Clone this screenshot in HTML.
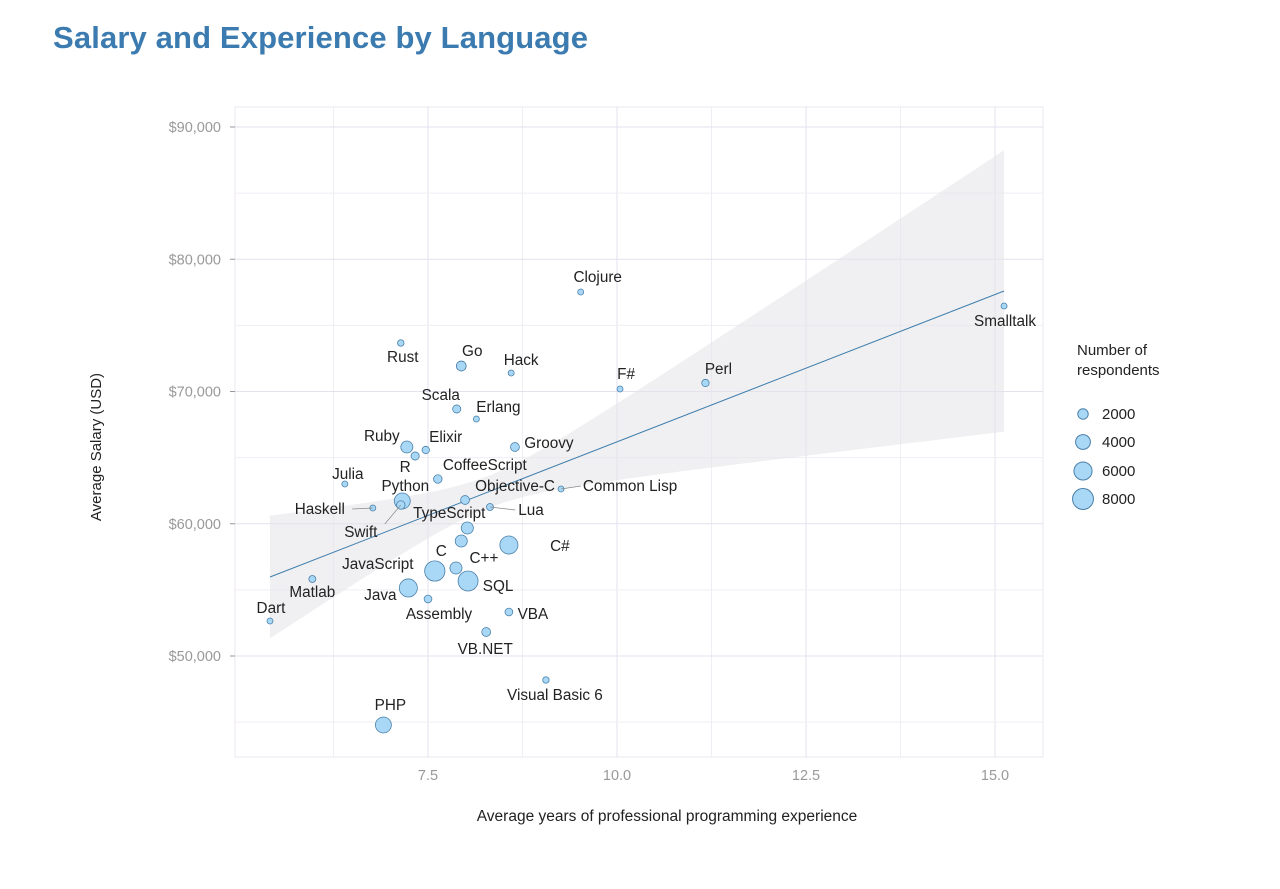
<!DOCTYPE html>
<html><head><meta charset="utf-8"><style>
body{margin:0;background:#fff;width:1280px;height:884px;overflow:hidden;font-family:"Liberation Sans",Arial,sans-serif}
</style></head><body>
<svg id="chart" width="1280" height="884" xmlns="http://www.w3.org/2000/svg" font-family="Liberation Sans, Arial, sans-serif">
<text x="53" y="48" font-size="31" font-weight="bold" fill="#3b7bb0" textLength="535">Salary and Experience by Language</text>
<g id="grid"></g><g id="band"></g><g id="marks"></g><g id="labels"></g>
<text x="667" y="821" font-size="15.5" text-anchor="middle" fill="#222">Average years of professional programming experience</text>
<text transform="translate(101,447) rotate(-90)" font-size="15" text-anchor="middle" fill="#222">Average Salary (USD)</text>
<g id="legend">
<text x="1077" y="355" font-size="15" fill="#222">Number of</text>
<text x="1077" y="375" font-size="15" fill="#222">respondents</text>
</g>
</svg>
<script>
const languages=["Clojure","Smalltalk","Rust","Go","Hack","F#","Perl","Scala","Erlang","Ruby","Elixir","R","Groovy","Julia","CoffeeScript","Objective-C","Common Lisp","Python","Haskell","Swift","Lua","TypeScript","C","C#","C++","JavaScript","SQL","Matlab","Java","Assembly","VBA","Dart","VB.NET","Visual Basic 6","PHP"];
const experience=[9.52,15.12,7.14,7.94,8.60,10.04,11.17,7.88,8.14,7.22,7.47,7.33,8.65,6.40,7.63,7.99,9.26,7.16,6.77,7.14,8.32,8.02,7.94,8.57,7.87,7.59,8.03,5.97,7.24,7.50,8.57,5.41,8.27,9.06,6.91];
const salary=[77524,76465,73667,71928,71399,70189,70643,68677,67921,65803,65577,65123,65803,63006,63384,61796,62628,61720,61191,61418,61267,59679,58696,58393,56654,56427,55671,55822,55142,54310,53327,52647,51815,48185,44783];
const respondents=[500,400,700,1600,400,500,900,1100,500,2400,900,1100,1300,300,1200,1300,300,4200,400,1200,800,2400,2400,5400,2400,6800,6600,800,5400,1000,1000,400,1300,700,4200];
const xTicks=[7.5,10.0,12.5,15.0];
const yTicks=[50000,60000,70000,80000,90000];
const legendValues=[2000,4000,6000,8000];
const fitX=[5.41,15.12];
const fitY=[55973,77599];
// label offsets (pixels) — layout only
const lo=[[17,-15],[1,15],[2,14],[11,-15],[10,-13],[6,-15],[13,-14],[-16,-14],[22,-12],[-25,-11],[20,-13],[-10,11],[34,-4],[3,-10],[47,-14],[50,-14],[69,-3],[3,-15],[-53,1],[-40,27],[41,3],[-18,-15],[-20,10],[51,1],[28,-10],[-57,-7],[30,5],[0,13],[-28,7],[11,15],[24,2],[1,-13],[-1,17],[9,15],[7,-20]];
const lead=[16,18,19,20];
const NS="http://www.w3.org/2000/svg";
const L=235,R=1043,T=107,B=757;
const X=v=>-139+v*75.6;
const Y=v=>127+(90000-v)/10000*132.25;
const rS=n=>0.123*Math.sqrt(n);
function mk(tag,attrs,parent){const e=document.createElementNS(NS,tag);for(const k in attrs)e.setAttribute(k,attrs[k]);document.getElementById(parent).appendChild(e);return e;}
const grid=mk("rect",{x:L,y:T,width:R-L,height:B-T,fill:"#fff",stroke:"#ebe6f2"},"grid");


[6.25,8.75,11.25,13.75].forEach(t=>{
 const m=mk("line",{x1:X(t),x2:X(t),y1:T,y2:B,stroke:"#f0edf5"},"grid");
 
 
});
xTicks.forEach(t=>{
 const l=mk("line",{x1:X(t),x2:X(t),y1:T,y2:B,stroke:"#e6e1ef"},"grid");
 
 
 const tx=mk("text",{x:X(t),y:B+23,"font-size":14.5,"text-anchor":"middle",fill:"#999"},"grid");tx.textContent=t.toFixed(1);
 
 
});
yTicks.forEach(t=>{
 const l=mk("line",{x1:L,x2:R,y1:Y(t),y2:Y(t),stroke:"#e6e1ef"},"grid");
 
 
 const m=mk("line",{x1:L,x2:R,y1:Y(t-5000),y2:Y(t-5000),stroke:"#f0edf5"},"grid");
 
 
 const tk=mk("line",{x1:L-5,x2:L,y1:Y(t),y2:Y(t),stroke:"#999"},"grid");
 
 
 const tx=mk("text",{x:L-14,y:Y(t)+5,"font-size":14.5,"text-anchor":"end",fill:"#999"},"grid");tx.textContent="$"+t.toLocaleString("en-US");
 
 
});
const slope=(fitY[1]-fitY[0])/(fitX[1]-fitX[0]);
const fy=x=>fitY[0]+slope*(x-fitX[0]);
const hw=x=>Math.sqrt(16*16+Math.pow(20.5*(x-8.3),2));
let up=[],dn=[];
for(let i=0;i<=40;i++){const x=fitX[0]+(fitX[1]-fitX[0])*i/40;up.push(X(x)+","+(Y(fy(x))-hw(x)));dn.unshift(X(x)+","+(Y(fy(x))+hw(x)));}
const band=mk("polygon",{points:up.concat(dn).join(" "),fill:"#e4e4e8","fill-opacity":0.55},"band");


const fl=mk("line",{x1:X(fitX[0]),y1:Y(fitY[0]),x2:X(fitX[1]),y2:Y(fitY[1]),stroke:"#3f7fae","stroke-width":1},"band");


const idx=languages.map((_,i)=>i).sort((a,b)=>respondents[b]-respondents[a]);
idx.forEach(i=>{
 const c=mk("circle",{cx:X(experience[i]),cy:Y(salary[i]),r:Math.max(rS(respondents[i]),3),fill:"#a9d8f7",stroke:"#4a7fa8","stroke-width":0.8},"marks");
 
 
});
languages.forEach((n,i)=>{
 const px=X(experience[i]),py=Y(salary[i]);
 const tx=px+lo[i][0],ty=py+lo[i][1];
 if(lead.includes(i)){
  const ln=mk("line",{x1:px,y1:py,x2:tx+(lo[i][0]>0?-n.length*4.2-3:n.length*4.2+3),y2:ty+(i===19?-8:0),stroke:"#888","stroke-width":0.7},"labels");
  
  
 }
 const t=mk("text",{x:tx,y:ty+5,"font-size":15.3,"text-anchor":"middle",fill:"#222"},"labels");t.textContent=n;
 
 
});
const legY=[414,442,471,499];
legendValues.forEach((v,k)=>{
 const c=mk("circle",{cx:1083,cy:legY[k],r:rS(v)*0.95,fill:"#a9d8f7",stroke:"#4a7fa8"},"legend");
 
 
 const t=mk("text",{x:1102,y:legY[k]+5,"font-size":15,fill:"#222"},"legend");t.textContent=v;
 
 
});
</script>
</body></html>
